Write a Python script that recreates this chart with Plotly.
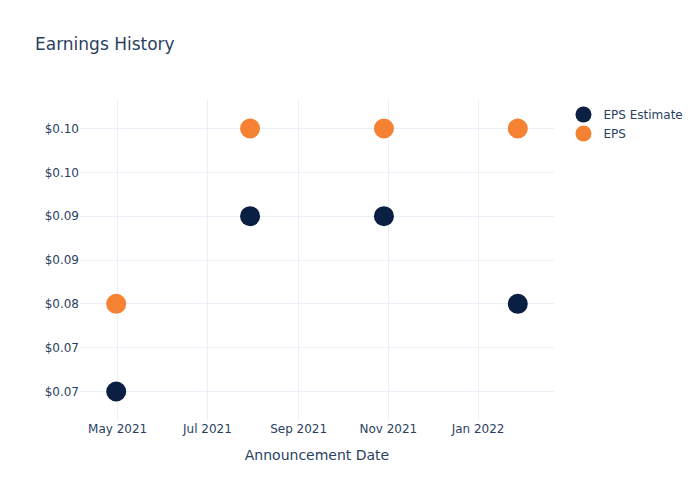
import plotly.graph_objects as go

dates = ["2021-04-30", "2021-07-30", "2021-10-29", "2022-01-28"]
eps_estimate = [0.07, 0.09, 0.09, 0.08]
eps_actual = [0.08, 0.10, 0.10, 0.10]

fig = go.Figure()
fig.add_trace(go.Scatter(x=dates, y=eps_estimate, mode="markers", name="EPS Estimate",
                         marker=dict(size=20, color="#0b1f42")))
fig.add_trace(go.Scatter(x=dates, y=eps_actual, mode="markers", name="EPS",
                         marker=dict(size=20, color="#f58233")))
fig.update_layout(
    template="plotly_white",
    width=700, height=500,
    font=dict(family="DejaVu Sans"),
    title=dict(text="Earnings History"),
    xaxis=dict(title="Announcement Date"),
    yaxis=dict(tickprefix="$", tickformat=".2f"),
)
fig.write_html("out.html")
